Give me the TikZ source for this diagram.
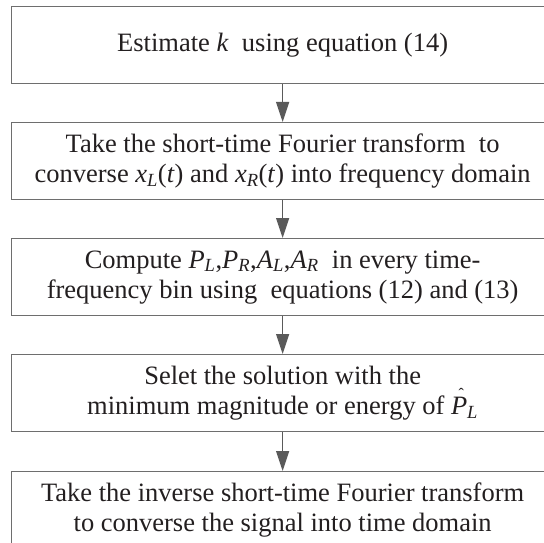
\documentclass[tikz,border=0pt]{standalone}
\usepackage{fontspec}
\setmainfont{Liberation Serif}
\usetikzlibrary{arrows.meta}
\definecolor{boxgray}{HTML}{6E6E6E}
\definecolor{arrgray}{HTML}{5A5A5A}
\definecolor{textblack}{HTML}{231F20}
\newcommand{\iv}[1]{\textit{#1}}
\newcommand{\sbi}[1]{\textsubscript{\textit{#1}}}
\newcommand{\hatP}{\rlap{\hspace{7.5pt}\raisebox{15pt}[0pt][0pt]{\fontsize{16}{16}\selectfont ˆ}}\textit{P}}
\begin{document}
\begin{tikzpicture}[x=1pt,y=-1pt,
  box/.style={draw=boxgray, line width=1.3pt, minimum width=542pt, minimum height=77pt,
    inner sep=0pt, align=center, font=\fontsize{26.5}{30}\selectfont, text=textblack, anchor=north west},
  arr/.style={draw=arrgray, line width=1.3pt, -{Triangle[length=20pt,width=13pt]}}]
\useasboundingbox (0,0) rectangle (544,543);
\clip (0,0) rectangle (544,543);
\node[box] (b1) at (11,6) {Estimate \iv{k}\ \ using equation (14)};
\node[box] (b2) at (11,122) {Take the short-time Fourier transform\ \ to\\converse \iv{x}\sbi{L}(\iv{t}) and \iv{x}\sbi{R}(\iv{t}) into frequency domain};
\node[box] (b3) at (11,238) {Compute \iv{P}\sbi{L},\iv{P}\sbi{R},\iv{A}\sbi{L},\iv{A}\sbi{R}\ \ in every time-\\frequency bin using\ \ equations (12) and (13)};
\node[box] (b4) at (11,354) {Selet the solution with the\\minimum magnitude or energy of \hatP\sbi{L}};
\node[box] (b5) at (11,471) {Take the inverse short-time Fourier transform\\to converse the signal into time domain};
\draw[arr] (b1.south) -- (b2.north);
\draw[arr] (b2.south) -- (b3.north);
\draw[arr] (b3.south) -- (b4.north);
\draw[arr] (b4.south) -- (b5.north);
\end{tikzpicture}
\end{document}
